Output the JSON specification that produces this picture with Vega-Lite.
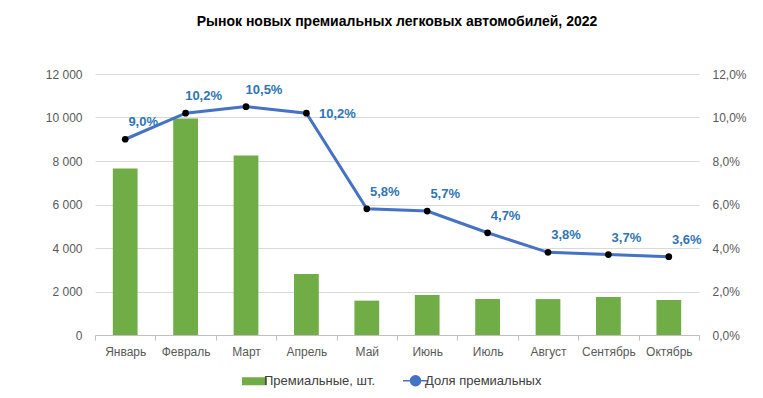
{
  "$schema": "https://vega.github.io/schema/vega-lite/v6.json",
  "width": 604,
  "height": 261,
  "autosize": {"type": "none"},
  "padding": {"left": 95, "top": 74, "right": 64, "bottom": 63},
  "background": "white",
  "config": {
    "locale": {"number": {"decimal": ",", "thousands": "\u00a0", "grouping": [3], "currency": ["", " ₽"]}},
    "font": "Liberation Sans",
    "view": {"stroke": null},
    "axis": {"labelFont": "Liberation Sans", "labelFontSize": 12, "labelColor": "#595959"}
  },
  "title": {
    "text": "Рынок новых премиальных легковых автомобилей, 2022",
    "fontSize": 14,
    "fontWeight": "bold",
    "color": "#000000",
    "anchor": "middle",
    "offset": 39
  },
  "data": {
    "values": [
      {"month": "Январь", "units": 7650, "share": 0.090},
      {"month": "Февраль", "units": 9950, "share": 0.102},
      {"month": "Март", "units": 8250, "share": 0.105},
      {"month": "Апрель", "units": 2800, "share": 0.102},
      {"month": "Май", "units": 1580, "share": 0.058},
      {"month": "Июнь", "units": 1840, "share": 0.057},
      {"month": "Июль", "units": 1660, "share": 0.047},
      {"month": "Август", "units": 1650, "share": 0.038},
      {"month": "Сентябрь", "units": 1750, "share": 0.037},
      {"month": "Октябрь", "units": 1610, "share": 0.036}
    ]
  },
  "encoding": {
    "x": {
      "field": "month",
      "type": "nominal",
      "sort": null,
      "scale": {"paddingInner": 0, "paddingOuter": 0},
      "axis": {
        "title": null,
        "labelAngle": 0,
        "domainColor": "#BFBFBF",
        "tickColor": "#BFBFBF",
        "tickBand": "extent",
        "tickSize": 5,
        "labelPadding": 6,
        "grid": false
      }
    }
  },
  "layer": [
    {
      "mark": {"type": "bar", "width": {"band": 0.41}},
      "encoding": {
        "y": {
          "field": "units",
          "type": "quantitative",
          "scale": {"domain": [0, 12000]},
          "axis": {
            "title": null,
            "orient": "left",
            "values": [0, 2000, 4000, 6000, 8000, 10000, 12000],
            "format": ",d",
            "domain": false,
            "ticks": false,
            "labelPadding": 13,
            "gridColor": "#D9D9D9",
            "grid": true
          }
        },
        "color": {
          "datum": "Премиальные, шт.",
          "scale": {"domain": ["Премиальные, шт.", "Доля премиальных"], "range": ["#70AD47", "#4472C4"]},
          "legend": {
            "title": null,
            "orient": "none",
            "legendX": 153,
            "legendY": 300,
            "direction": "horizontal",
            "padding": 0,
            "symbolSize": 625,
            "symbolFillColor": "#000000",
            "labelFont": "Liberation Sans",
            "labelFontSize": 13,
            "labelColor": "#404040",
            "columnPadding": 24,
            "labelOffset": 3,
            "encode": {
              "symbols": {
                "update": {
                  "shape": {"signal": "datum.value === 'Доля премиальных' ? 'M-1,0H1M-0.4,0A0.4,0.4 0 1,0 0.4,0A0.4,0.4 0 1,0 -0.4,0Z' : 'M-1,-0.32H1V0.32H-1Z'"},
                  "fill": {"signal": "datum.value === 'Доля премиальных' ? '#000000' : '#70AD47'"},
                  "stroke": {"signal": "datum.value === 'Доля премиальных' ? '#4472C4' : '#70AD47'"},
                  "strokeWidth": {"signal": "datum.value === 'Доля премиальных' ? 1.5 : 0"},
                  "size": {"value": 625},
                  "opacity": {"value": 1},
                  "fillOpacity": {"value": 1}
                }
              }
            }
          }
        }
      }
    },
    {
      "encoding": {
        "y": {
          "field": "share",
          "type": "quantitative",
          "scale": {"domain": [0, 0.12]},
          "axis": {
            "title": null,
            "orient": "right",
            "values": [0, 0.02, 0.04, 0.06, 0.08, 0.1, 0.12],
            "format": ".1%",
            "domain": false,
            "ticks": false,
            "grid": false,
            "labelPadding": 13
          }
        }
      },
      "layer": [
        {
          "mark": {"type": "line", "strokeWidth": 3},
          "encoding": {"color": {"datum": "Доля премиальных"}}
        },
        {
          "mark": {"type": "point", "filled": true, "size": 45, "color": "#000000", "opacity": 1}
        },
        {
          "transform": [{"filter": "datum.month !== 'Апрель'"}],
          "mark": {"type": "text", "dx": 18, "dy": -17, "fontSize": 13, "fontWeight": "bold", "color": "#2F75B5", "font": "Liberation Sans"},
          "encoding": {"text": {"field": "share", "type": "quantitative", "format": ".1%"}}
        },
        {
          "transform": [{"filter": "datum.month === 'Апрель'"}],
          "mark": {"type": "text", "dx": 31, "dy": 1, "fontSize": 13, "fontWeight": "bold", "color": "#2F75B5", "font": "Liberation Sans"},
          "encoding": {"text": {"field": "share", "type": "quantitative", "format": ".1%"}}
        }
      ]
    }
  ],
  "resolve": {"scale": {"y": "independent"}}
}
